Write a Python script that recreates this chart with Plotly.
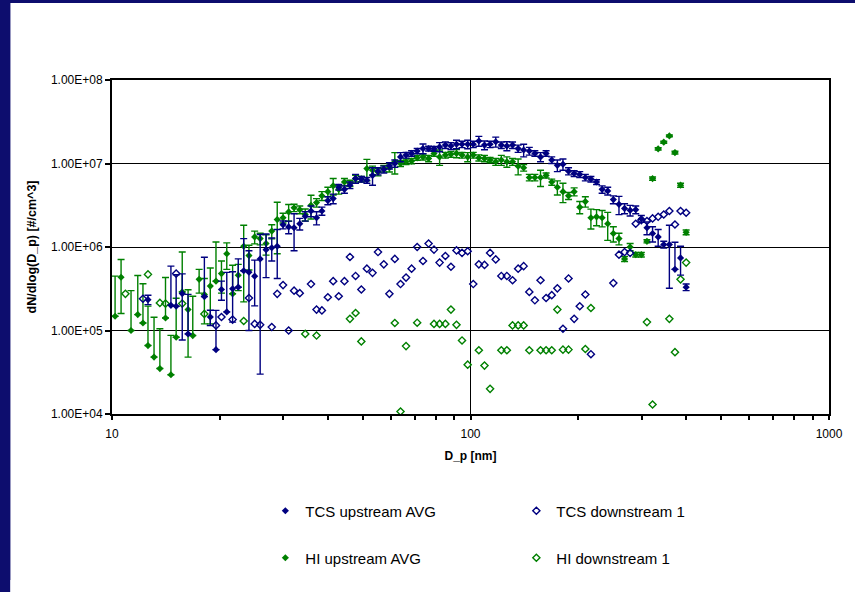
import plotly.graph_objects as go

navy = "#000080"
green = "#008000"

# ---------------- data ----------------
# TCS upstream AVG (diameter nm, dN/dlogDp, error)
tcs_up_d = [12.6, 14.6, 15.1, 15.7, 16.3, 18.1, 18.8, 19.5,
            20.2, 20.9, 21.7, 22.5, 23.3, 24.1, 25.0, 25.9, 26.9, 27.9, 28.9, 30.0, 31.1, 32.2,
            33.4, 34.6, 35.9, 37.2, 38.5, 40.0, 41.4, 42.9, 44.5, 46.1, 47.8, 49.6, 51.4, 53.3, 55.2, 57.3, 59.4, 61.5,
            63.8, 66.1, 68.5, 71.0, 73.7, 76.4, 79.1, 82.0, 85.1, 88.2, 91.4, 94.7, 98.2, 101.8, 105.5, 109.4, 113.4,
            117.6, 121.9, 126.3, 131.0, 135.8, 140.7, 145.9, 151.2, 156.8,
            162.5, 168.5, 174.7, 181.1, 187.7, 194.6, 201.7, 209.1, 216.7, 224.7, 232.9, 241.4, 250.3, 259.5, 269.0,
            278.8, 289.0, 299.6, 310.6, 322.0, 333.8, 346.0, 358.7, 371.8, 385.4, 399.5]
tcs_up_n = [2.34e5, 2.0e5, 1.95e5, 2.77e5, 9.1e4, 2.55e5, 1.45e5, 5.9e4,
            3.1e5, 1.67e5, 3.16e5, 3.3e5, 5.2e5, 5.0e5, 4.47e5, 7.2e5, 9.3e5, 9.8e5, 1.02e6, 1.85e6, 1.74e6, 1.7e6,
            1.9e6, 2.34e6, 2.7e6, 2.24e6, 2.7e6, 3.6e6, 3.8e6, 5.2e6, 4.9e6, 5.5e6, 6.6e6, 6.5e6, 6.3e6, 7.2e6, 8.1e6, 8.5e6, 9.4e6, 1.0e7,
            1.2e7, 1.26e7, 1.32e7, 1.41e7, 1.51e7, 1.51e7, 1.5e7, 1.58e7, 1.66e7, 1.62e7, 1.7e7, 1.7e7, 1.7e7, 1.7e7, 1.86e7, 1.66e7, 1.7e7,
            1.82e7, 1.66e7, 1.62e7, 1.66e7, 1.51e7, 1.45e7, 1.41e7, 1.32e7, 1.2e7,
            1.32e7, 1.1e7, 9.5e6, 9.8e6, 8.1e6, 7.6e6, 7.4e6, 6.8e6, 6.5e6, 6.0e6, 4.9e6, 4.7e6, 3.7e6, 3.24e6, 2.9e6,
            2.75e6, 2.8e6, 2.18e6, 1.7e6, 1.45e6, 1.32e6, 1.07e6, 1.07e6, 5.4e5, 7.4e5, 3.3e5]
tcs_up_err = [3e4, 3.9e5, 2.7e5, 2.0e5, 1.8e5, 5e5, 3e4, 1.15e5,
              8e4, 3.3e5, 1.9e5, 3.9e5, 7.4e5, 4e5, 2.5e5, 6.9e5, 5e5, 3e5, 6e5, 2e5, 3e5, 8e5,
              3e5, 3e5, 4e5, 4e5, 3e5, 4e5, 5e5, 4e5, 5e5, 5e5, 8e5, 5e5, 5e5, 1.7e6, 8e5, 8e5, 8e5, 1e6,
              1.5e6, 1e6, 1e6, 1e6, 2e6, 1e6, 1e6, 2e6, 1.5e6, 1.5e6, 2e6, 1.5e6, 2e6, 1.5e6, 2.5e6, 2e6, 1.5e6,
              2.5e6, 1.5e6, 2e6, 1.5e6, 1.5e6, 2.5e6, 1.5e6, 1e6, 1.5e6,
              1e6, 1e6, 1.5e6, 1.5e6, 8e5, 6e5, 6e5, 6e5, 5e5, 4e5, 5e5, 5e5, 4e5, 8e5, 4e5,
              4e5, 3e5, 2e5, 3e5, 3e5, 3e5, 1e5, 7.5e5, 6e5, 2.8e5, 3e4]

# TCS downstream 1
tcs_dn_d = [12.2, 15.1, 19.5, 20.2, 21.7, 24.1, 25.0, 25.9, 27.9, 28.9, 30.0, 31.1, 32.2, 33.4, 35.9, 37.2, 38.5,
            40.0, 41.4, 42.9, 44.5, 46.1, 47.8, 49.6, 51.4, 53.3, 55.2, 57.3, 59.4, 61.5, 63.8, 66.1, 68.5, 71.0,
            73.7, 76.4, 79.1, 82.0, 85.1, 88.2, 91.4, 94.7, 98.2, 101.8, 105.5, 109.4, 113.4, 117.6, 121.9, 126.3,
            131.0, 135.8, 140.7, 145.9, 151.2, 156.8, 162.5, 168.5, 174.7, 181.1, 187.7, 194.6, 201.7, 209.1, 216.7,
            250.3, 259.5, 269.0, 278.8, 289.0, 299.6, 310.6, 322.0, 333.8, 346.0, 358.7, 371.8, 385.4, 399.5]
tcs_dn_n = [2.4e5, 4.8e5, 1.15e5, 1.45e5, 1.35e5, 2.45e5, 1.2e5, 1.17e5, 1.1e5, 2.75e5, 3.5e5, 1.0e5, 3.0e5, 2.8e5,
            3.6e5, 1.78e5, 1.74e5, 2.5e5, 3.9e5, 2.57e5, 3.9e5, 7.6e5, 4.5e5, 3.1e5, 5.5e5, 4.9e5, 8.7e5, 6.2e5,
            2.75e5, 7.2e5, 3.6e5, 4.3e5, 5.5e5, 1.0e6, 6.8e5, 1.1e6, 9.3e5, 6.5e5, 7.8e5, 5.8e5, 9.1e5, 8.5e5,
            8.9e5, 3.6e5, 6.2e5, 6.1e5, 8.5e5, 7.1e5, 4.5e5, 4.5e5, 4.0e5, 5.5e5, 5.9e5, 2.9e5, 2.3e5, 4.0e5,
            2.45e5, 2.65e5, 3.2e5, 1.05e5, 4.2e5, 1.38e5, 1.95e5, 2.7e5, 5.2e4,
            3.7e5, 8.1e5, 8.7e5, 8.5e5, 1.9e6, 2.1e6, 2.05e6, 2.2e6, 2.3e6, 2.45e6, 2.7e6, 1.86e6, 2.7e6, 2.57e6]

# HI upstream AVG
hi_up_d = [10.2, 10.6, 11.3, 11.8, 12.2, 12.6, 13.1, 13.6, 14.1, 14.6, 15.1, 15.7, 16.3, 16.8, 17.5, 18.1, 18.8,
           19.5, 20.2, 20.9, 21.7, 22.5, 23.3, 24.1, 25.0, 25.9, 26.9, 27.9, 28.9, 30.0, 31.1, 32.2,
           33.4, 34.6, 35.9, 37.2, 38.5, 40.0, 41.4, 42.9, 44.5, 46.1, 47.8, 49.6, 51.4, 53.3, 55.2, 57.3, 59.4, 61.5,
           63.8, 66.1, 68.5, 71.0, 73.7, 76.4, 79.1, 82.0, 85.1, 88.2, 91.4, 94.7, 98.2, 101.8, 105.5, 109.4, 113.4,
           117.6, 121.9, 126.3, 131.0, 135.8, 140.7, 145.9, 151.2, 156.8,
           162.5, 168.5, 174.7, 181.1, 187.7, 194.6, 201.7, 209.1, 216.7, 224.7, 232.9, 241.4, 250.3, 259.5, 269.0,
           278.8, 289.0, 299.6, 310.6, 322.0, 333.8, 346.0, 358.7, 371.8, 385.4, 399.5]
hi_up_n = [1.48e5, 4.34e5, 1.0e5, 1.55e5, 1.23e5, 6.6e4, 4.8e4, 3.5e4, 1.41e5, 2.95e4, 8.3e4, 2.9e5, 1.78e5, 8.7e4,
           4.1e5, 2.7e5, 3.4e5, 3.9e5, 4.8e5, 8.3e5, 2.75e5, 4.6e5, 1.02e6, 7.9e5, 1.32e6, 1.26e6, 1.1e6, 1.55e6,
           2.13e6, 2.24e6, 2.63e6, 2.95e6,
           2.8e6, 2.45e6, 3.16e6, 3.4e6, 4.1e6, 4.6e6, 5.4e6, 4.9e6, 6.0e6, 5.8e6, 6.6e6, 6.5e6, 8.7e6, 8.3e6, 7.9e6,
           8.7e6, 8.9e6, 1.05e7,
           1.0e7, 1.05e7, 1.07e7, 1.17e7, 1.2e7, 1.15e7, 1.32e7, 1.2e7, 1.26e7, 1.29e7, 1.32e7, 1.26e7, 1.2e7, 1.26e7,
           1.17e7, 1.15e7, 1.1e7, 1.05e7, 1.1e7, 1.05e7, 1.05e7, 9.3e6, 8.9e6, 6.8e6, 6.8e6, 6.8e6,
           7.2e6, 6.0e6, 5.2e6, 4.6e6, 4.1e6, 4.6e6, 3.0e6, 3.5e6, 2.24e6, 2.3e6, 2.24e6, 1.9e6, 1.45e6, 1.26e6, 7.2e5,
           1.0e6, 8.1e5, 8.1e5, 1.17e6, 6.6e6, 1.5e7, 1.8e7, 2.14e7, 1.35e7, 5.5e6, 1.5e6]
hi_up_err = [3.0e5, 2.74e5, 2.0e5, 3.0e5, 2.4e5, 1.3e5, 9.6e4, 7e4, 2.9e5, 5.8e4, 1.6e5, 5.8e5, 1.3e5, 1.7e5,
             1.3e5, 1.5e5, 2.2e5, 7.6e5, 2e5, 2.9e5, 3.3e5, 1.6e5, 8e5, 2.6e5, 2.3e5, 2e5, 3e5, 3e5,
             1.3e6, 3e5, 6e5, 3e5,
             3e5, 4e5, 1.0e6, 4e5, 5e5, 6e5, 1.2e6, 6e5, 6e5, 5e5, 6e5, 5e5, 2.5e6, 1e6, 8e5, 8e5, 1e6, 3e6,
             8e5, 8e5, 8e5, 8e5, 1e6, 1e6, 1e6, 2.5e6, 1e6, 1e6, 1.5e6, 1e6, 1.5e6, 1e6,
             1e6, 1e6, 8e5, 1e6, 1.5e6, 1.5e6, 1e6, 2e6, 8e5, 6e5, 6e5, 1.5e6,
             5e5, 5e5, 1e6, 1.2e6, 4e5, 5e5, 5e5, 5e5, 6e5, 5e5, 5e5, 7e5, 3e5, 2e5, 5e4,
             1e5, 5e4, 5e4, 5e4, 3e5, 5e5, 5e5, 5e5, 5e5, 3e5, 1e5]

# HI downstream 1
hi_dn_d = [10.9, 12.6, 13.6, 14.1, 15.7, 18.1, 23.3, 34.6, 37.2, 46.1, 47.8, 49.6, 61.5, 63.8, 66.1, 71.0, 79.1,
           82.0, 85.1, 88.2, 91.4, 94.7, 98.2, 105.5, 109.4, 113.4, 121.9, 126.3, 131.0, 135.8, 140.7, 145.9, 156.8,
           162.5, 168.5, 174.7, 181.1, 187.7, 209.1, 216.7, 310.6, 322.0, 358.7, 371.8, 385.4, 399.5]
hi_dn_n = [2.75e5, 4.7e5, 2.14e5, 2.1e5, 2.1e5, 1.58e5, 1.3e5, 9.1e4, 8.7e4, 1.38e5, 1.62e5, 7.4e4, 1.23e5, 1.07e4,
           6.5e4, 1.24e5, 1.2e5, 1.2e5, 1.2e5, 1.78e5, 1.17e5, 7.6e4, 3.9e4, 5.8e4, 3.8e4, 2.0e4, 5.8e4, 5.8e4,
           1.15e5, 1.15e5, 1.15e5, 5.8e4, 5.8e4, 5.8e4, 5.8e4, 1.78e5, 5.9e4, 5.9e4, 6.0e4, 1.86e5, 1.26e5, 1.3e4,
           1.38e5, 5.5e4, 4.1e5, 6.5e5]

x_tick_vals = [10, 100, 1000]
x_tick_text = ["10", "100", "1000"]
x_minor_vals = [20, 30, 40, 50, 60, 70, 80, 90, 200, 300, 400, 500, 600, 700, 800, 900]
y_tick_vals = [1e4, 1e5, 1e6, 1e7, 1e8]
y_tick_text = ["1.00E+04", "1.00E+05", "1.00E+06", "1.00E+07", "1.00E+08"]


def minus(vals, errs):
    # lower bar is omitted when it would fall below zero on the log axis
    return [e if e < v else 0 for v, e in zip(vals, errs)]


FONT = "Liberation Sans, Arial, sans-serif"
BORDER = "#0d0d6e"

fig = go.Figure()

fig.add_trace(go.Scatter(
    x=hi_up_d, y=hi_up_n, mode="markers", name="HI upstream AVG", legend="legend2",
    marker=dict(symbol="diamond", size=5.5, color=green, line=dict(width=0)),
    error_y=dict(type="data", symmetric=False, array=hi_up_err, arrayminus=minus(hi_up_n, hi_up_err),
                 color=green, thickness=1.4, width=3.5)))
fig.add_trace(go.Scatter(
    x=hi_dn_d, y=hi_dn_n, mode="markers", name="HI downstream 1", legend="legend2",
    marker=dict(symbol="diamond-open", size=5.5, color=green, line=dict(width=1.4, color=green))))
fig.add_trace(go.Scatter(
    x=tcs_up_d, y=tcs_up_n, mode="markers", name="TCS upstream AVG", legend="legend",
    marker=dict(symbol="diamond", size=5.5, color=navy, line=dict(width=0)),
    error_y=dict(type="data", symmetric=False, array=tcs_up_err, arrayminus=minus(tcs_up_n, tcs_up_err),
                 color=navy, thickness=1.4, width=3.5)))
fig.add_trace(go.Scatter(
    x=tcs_dn_d, y=tcs_dn_n, mode="markers", name="TCS downstream 1", legend="legend",
    marker=dict(symbol="diamond-open", size=5.5, color=navy, line=dict(width=1.4, color=navy))))

W, H = 855, 592
L, R, T, B = 112, 23, 80, 178
pw, ph = W - L - R, H - T - B


def px_x(px):
    return (px - L) / pw


def px_y(py):
    return (H - B - py) / ph


legend_common = dict(orientation="h", xanchor="left", yanchor="middle",
                     entrywidth=206, entrywidthmode="pixels", bgcolor="rgba(0,0,0,0)",
                     font=dict(size=15, family=FONT), itemwidth=30, tracegroupgap=0)

fig.update_layout(
    width=W, height=H,
    margin=dict(l=L, r=R, t=T, b=B, pad=0),
    paper_bgcolor="white",
    plot_bgcolor="white",
    font=dict(family=FONT, color="black", size=12),
    showlegend=True,
    xaxis=dict(
        type="log", range=[1, 3], tickvals=x_tick_vals, ticktext=x_tick_text,
        ticks="outside", ticklen=4, tickwidth=2, tickcolor="black", ticklabelstandoff=4,
        minor=dict(tickvals=x_minor_vals, ticks="outside", ticklen=4, tickwidth=2, tickcolor="black", showgrid=False),
        showgrid=True, gridcolor="black", gridwidth=1,
        showline=True, linecolor="black", linewidth=2, mirror=True,
        zeroline=False, tickfont=dict(size=12),
        title=dict(text="<b>D_p [nm]</b>", font=dict(size=12), standoff=11),
    ),
    xaxis2=dict(
        type="log", range=[1, 3], overlaying="x", anchor="y", side="bottom",
        tickvals=x_tick_vals, ticks="inside", ticklen=4, tickwidth=2, tickcolor="black",
        minor=dict(tickvals=x_minor_vals, ticks="inside", ticklen=4, tickwidth=2, tickcolor="black"),
        showticklabels=False, showgrid=False, showline=False, zeroline=False,
    ),
    yaxis=dict(
        type="log", range=[4, 8], tickvals=y_tick_vals, ticktext=y_tick_text,
        ticks="outside", ticklen=5, tickwidth=1.5, tickcolor="black",
        showgrid=True, gridcolor="black", gridwidth=1,
        showline=True, linecolor="black", linewidth=2, mirror=True,
        zeroline=False, tickfont=dict(size=12),
        title=dict(text="<b>dN/dlog(D_p) [#/cm^3]</b>", font=dict(size=12.5), standoff=12),
    ),
    legend=dict(x=px_x(266), y=px_y(511), **legend_common),
    legend2=dict(x=px_x(266), y=px_y(558), **legend_common),
    shapes=[
        dict(type="rect", xref="paper", yref="paper", layer="below",
             x0=px_x(-5), x1=px_x(10), y0=px_y(H + 5), y1=px_y(-5),
             fillcolor=BORDER, line=dict(width=0)),
        dict(type="rect", xref="paper", yref="paper", layer="below",
             x0=px_x(-5), x1=px_x(W + 5), y0=px_y(3), y1=px_y(-5),
             fillcolor=BORDER, line=dict(width=0)),
        # white cover for the right and bottom page edges
        dict(type="rect", xref="paper", yref="paper", layer="below",
             x0=px_x(W - 12), x1=px_x(W + 5), y0=px_y(H + 5), y1=px_y(3),
             fillcolor="white", line=dict(width=0)),
        dict(type="rect", xref="paper", yref="paper", layer="below",
             x0=px_x(10), x1=px_x(W + 5), y0=px_y(H + 5), y1=px_y(H - 12),
             fillcolor="white", line=dict(width=0)),
    ],
)

fig.write_html("out.html")
